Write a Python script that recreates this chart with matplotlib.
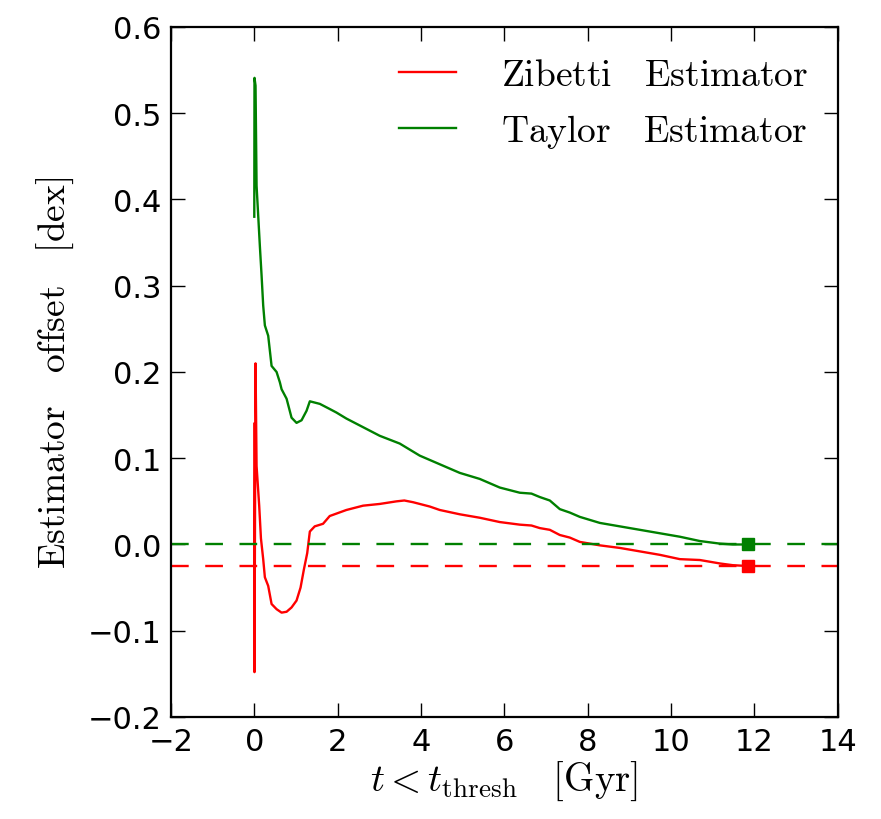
import numpy as np
import matplotlib
matplotlib.use("Agg")
import matplotlib.pyplot as plt
from matplotlib.ticker import FuncFormatter

plt.rcParams['mathtext.fontset'] = 'cm'
plt.rcParams['font.family'] = 'DejaVu Sans'

# Zibetti estimator offset vs look-back threshold
t_zib = [0.0, 0.005, 0.03, 0.055, 0.118, 0.16, 0.214, 0.254, 0.334, 0.415, 0.535,
         0.655, 0.775, 0.894, 1.014, 1.11, 1.19, 1.27, 1.333, 1.45, 1.65, 1.81,
         2.21, 2.61, 3.01, 3.41, 3.6, 3.81, 4.21, 4.45, 4.93, 5.41, 5.89, 6.37,
         6.65, 6.85, 7.09, 7.33, 7.57, 7.81, 8.29, 8.77, 9.25, 9.73, 10.21,
         10.69, 11.17, 11.48, 11.85]
off_zib = [0.14, -0.148, 0.21, 0.091, 0.045, 0.007, -0.017, -0.038, -0.048, -0.069,
           -0.075, -0.079, -0.078, -0.073, -0.065, -0.050, -0.029, -0.010, 0.015,
           0.021, 0.024, 0.033, 0.040, 0.045, 0.047, 0.050, 0.051, 0.049, 0.044,
           0.040, 0.035, 0.031, 0.026, 0.023, 0.022, 0.019, 0.017, 0.011, 0.008,
           0.003, -0.001, -0.004, -0.008, -0.012, -0.017, -0.018, -0.022, -0.024,
           -0.025]

# Taylor estimator offset
t_tay = [0.0, 0.005, 0.03, 0.055, 0.134, 0.175, 0.214, 0.254, 0.334, 0.415, 0.535,
         0.614, 0.655, 0.775, 0.894, 1.014, 1.134, 1.254, 1.333, 1.573, 1.813,
         1.97, 2.21, 2.61, 3.01, 3.49, 3.97, 4.45, 4.93, 5.41, 5.89, 6.37, 6.65,
         6.85, 7.09, 7.33, 7.57, 7.81, 8.29, 8.77, 9.25, 9.73, 10.21, 10.69,
         11.17, 11.48, 11.85]
off_tay = [0.38, 0.541, 0.532, 0.416, 0.346, 0.312, 0.277, 0.254, 0.242, 0.207,
           0.200, 0.188, 0.180, 0.169, 0.147, 0.141, 0.144, 0.155, 0.166, 0.163,
           0.157, 0.153, 0.146, 0.136, 0.126, 0.117, 0.103, 0.093, 0.083, 0.076,
           0.066, 0.060, 0.059, 0.055, 0.051, 0.041, 0.037, 0.032, 0.025, 0.021,
           0.017, 0.013, 0.009, 0.004, 0.001, 0.0, 0.0]

fig = plt.figure(figsize=(8.81, 8.2), dpi=100)
ax = fig.add_axes([0.194, 0.1244, 0.757, 0.8415])

ax.plot(t_zib, off_zib, color='red', lw=1.7, label=r'$\rm Zibetti\ \ \ Estimator$')
ax.plot(t_tay, off_tay, color='green', lw=1.7, label=r'$\rm Taylor\ \ \ Estimator$')

ax.axhline(off_tay[-1], color='green', ls='--', lw=1.7, dashes=(7.5, 7))
ax.axhline(off_zib[-1], color='red', ls='--', lw=1.7, dashes=(7.5, 7))
ax.plot(t_tay[-1], off_tay[-1], 's', color='green', ms=9, mec='green')
ax.plot(t_zib[-1], off_zib[-1], 's', color='red', ms=9, mec='red')

ax.set_xlim(-2, 14)
ax.set_ylim(-0.2, 0.6)
ax.set_xticks(np.arange(-2, 15, 2))
ax.set_yticks(np.arange(-0.2, 0.61, 0.1))
ax.xaxis.set_major_formatter(FuncFormatter(lambda v, p: f'{v:.0f}'.replace('-', '\u2212')))
ax.yaxis.set_major_formatter(FuncFormatter(lambda v, p: f'{v:.1f}'.replace('-', '\u2212')))

ax.tick_params(direction='in', top=True, right=True, length=10, width=1,
               labelsize=22, pad=7)
for s in ax.spines.values():
    s.set_linewidth(1.6)

ax.set_xlabel(r'$t < t_{\rm thresh}\ \ \ [\rm Gyr]$', fontsize=28, labelpad=2)
ax.set_ylabel(r'$\rm Estimator\ \ \ offset\ \ \ [dex]$', fontsize=27, labelpad=8)

ax.legend(loc='upper right', frameon=False, fontsize=27, handlelength=1.5,
          handletextpad=1.2, labelspacing=0.5, borderaxespad=0.4)

fig.savefig('out.png', dpi=100)
